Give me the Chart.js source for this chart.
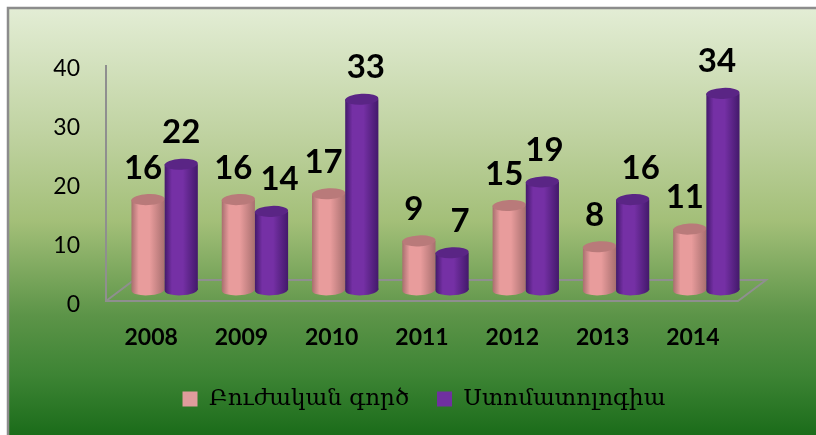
<!DOCTYPE html>
<html><head><meta charset="utf-8">
<style>html,body{margin:0;padding:0;background:#fff}canvas{display:block}</style>
<script src="https://cdn.jsdelivr.net/npm/chart.js@4"></script></head>
<body><div style="width:816px;height:435px"><canvas id="c" width="816" height="435"></canvas></div>
<script>
const categories = ['2008','2009','2010','2011','2012','2013','2014'];
const seriesNames = ['Բուժական գործ','Ստոմատոլոգիա'];
const pinkValues = [16,16,17,9,15,8,11];
const purpleValues = [22,14,33,7,19,16,34];
const yTicks = [0,10,20,30,40];
const labelNudge = [[-5,-5,-5,-5,-5,-5,-5],[0,8,4,8,2,8,-6]];

const DX = 13.5, DY = -7, RY = 5.5, TILT = -0.05;
const palette = [
 {edge:'#a86f6f', mid:'#e89c9c', cap:'#b97a7a', swatch:'#e09c9c'},
 {edge:'#43196b', mid:'#7530a5', cap:'#5a2585', swatch:'#7030a0'}
];
function sideGrad(ctx,x0,x1,p){
  const g = ctx.createLinearGradient(x0,0,x1,0);
  g.addColorStop(0,p.edge); g.addColorStop(0.22,p.mid); g.addColorStop(0.55,p.mid); g.addColorStop(1,p.edge);
  return g;
}
const scene = {
  id:'scene',
  afterLayout(chart){
    const l = chart.legend;
    l.left += 55; l.right += 55;
    const dy = 390 - (l.top + l.bottom)/2 ;
    l.top += dy; l.bottom += dy;
  },
  beforeDraw(chart){
    const {ctx,width,height,chartArea:a} = chart;
    ctx.save();
    ctx.fillStyle='#fff'; ctx.fillRect(0,0,width,height);
    const g = ctx.createLinearGradient(0,8,0,435);
    g.addColorStop(0,'#e3edd5'); g.addColorStop(0.3,'#bfd2a0'); g.addColorStop(0.5,'#a3bf78');
    g.addColorStop(0.72,'#5c9448'); g.addColorStop(0.86,'#3d8434'); g.addColorStop(1,'#1b6c1a');
    ctx.fillStyle=g; ctx.fillRect(8,8,width-8,427);
    ctx.strokeStyle='#8c8c8c'; ctx.lineWidth=2.5;
    ctx.beginPath(); ctx.moveTo(8,435); ctx.lineTo(8,8); ctx.lineTo(816,8); ctx.stroke();
    ctx.strokeStyle='#8f8f8f'; ctx.lineWidth=2;
    ctx.beginPath();
    ctx.moveTo(a.left,a.top); ctx.lineTo(a.left,a.bottom); ctx.lineTo(a.right,a.bottom);
    ctx.lineTo(a.right+28,a.bottom-21); ctx.lineTo(a.left+28,a.bottom-21); ctx.lineTo(a.left,a.bottom);
    ctx.stroke();
    ctx.restore();
  },
  beforeDatasetsDraw(chart){ chart.ctx.save(); chart.ctx.beginPath(); chart.ctx.rect(0,0,0,0); chart.ctx.clip(); },
  afterDatasetsDraw(chart){
    const {ctx} = chart;
    ctx.restore();
    ctx.save(); ctx.translate(DX,DY);
    chart.data.datasets.forEach((ds,i)=>{
      const p = palette[i];
      chart.getDatasetMeta(i).data.forEach(b=>{
        const w=b.width/2, g=sideGrad(ctx,b.x-w,b.x+w,p);
        ctx.fillStyle=g;
        ctx.beginPath(); ctx.ellipse(b.x,b.base,w,RY,TILT,0,Math.PI*2); ctx.fill();
        ctx.fillRect(b.x-w,b.y,b.width,b.base-b.y);
        ctx.fillStyle=p.cap;
        ctx.beginPath(); ctx.ellipse(b.x,b.y,w,RY,TILT,0,Math.PI*2); ctx.fill();
      });
    });
    ctx.restore();
  },
  afterDraw(chart){
    const {ctx} = chart;
    ctx.save();
    ctx.fillStyle='#000'; ctx.textAlign='center'; ctx.textBaseline='alphabetic';
    ctx.font='bold 33px Lato';
    chart.data.datasets.forEach((ds,i)=>{
      chart.getDatasetMeta(i).data.forEach((b,j)=>{
        ctx.fillText(ds.data[j], b.x+DX+labelNudge[i][j], b.y+DY-21);
      });
    });
    ctx.restore();
  }
};
new Chart(document.getElementById('c'),{
  type:'bar',
  data:{labels:categories,datasets:[
    {label:seriesNames[0],data:pinkValues,base:0.7,backgroundColor:palette[0].swatch,borderWidth:0,
     barPercentage:1,categoryPercentage:0.735},
    {label:seriesNames[1],data:purpleValues,base:0.7,backgroundColor:palette[1].swatch,borderWidth:0,
     barPercentage:1,categoryPercentage:0.735}
  ]},
  plugins:[scene],
  options:{
    responsive:false,animation:false,
    layout:{padding:{top:65,left:0,right:78,bottom:0}},
    plugins:{
      title:{display:false},tooltip:{enabled:false},
      legend:{display:true,position:'bottom',
        labels:{color:'#000',font:{family:'DejaVu Serif',size:23},boxWidth:15,boxHeight:15,padding:28}}
    },
    scales:{
      x:{grid:{display:false},border:{display:false},
         afterFit(ax){ax.height=73;},
         ticks:{color:'#000',font:{family:'Lato',weight:'bold',size:23},maxRotation:0,padding:15}},
      y:{min:0,max:40,afterBuildTicks(ax){ax.ticks=yTicks.map(v=>({value:v}));},
         afterFit(ax){ax.width=106;},
         grid:{display:false},border:{display:false},
         ticks:{color:'#000',font:{family:'Lato',size:23},padding:18,labelOffset:4}}
    }
  }
});
</script></body></html>
